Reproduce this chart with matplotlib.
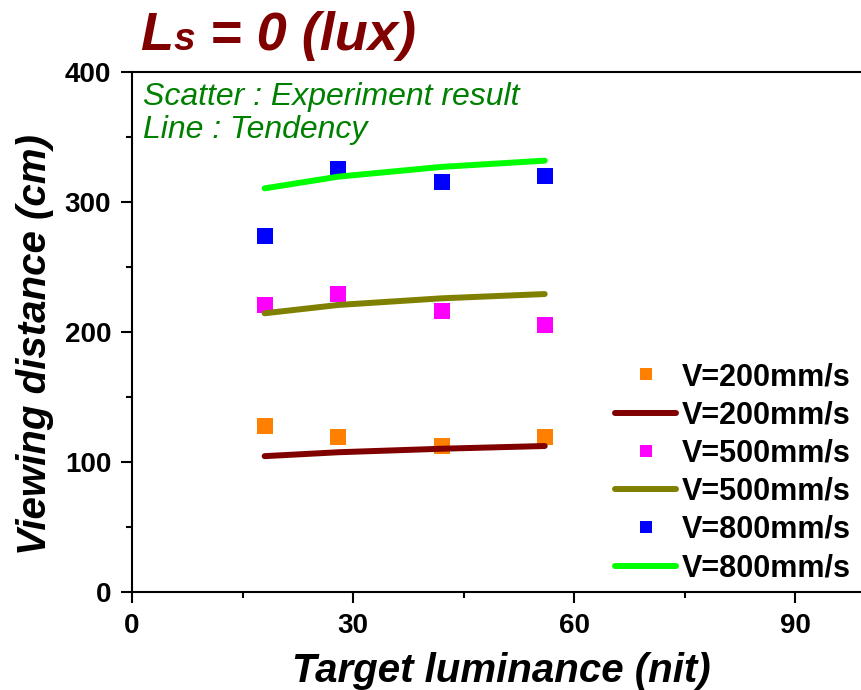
import matplotlib
matplotlib.use("Agg")
from matplotlib import pyplot as plt
from matplotlib.lines import Line2D

plt.rcParams['font.family'] = ['Liberation Sans', 'DejaVu Sans']

# experiment results (target luminance in nit, viewing distance in cm)
lum = [18, 28, 42, 56]
dist_200 = [127.7, 119.5, 112.5, 119.0]
dist_500 = [220.8, 229.0, 215.9, 205.6]
dist_800 = [273.8, 325.2, 315.2, 320.0]

# tendency curves
trend_lum = [18, 28, 42, 56]
trend_200 = [104.5, 107.5, 110.2, 112.3]
trend_500 = [214.4, 220.8, 225.9, 229.2]
trend_800 = [310.5, 319.5, 327.0, 331.8]

labels = ['V=200mm/s', 'V=500mm/s', 'V=800mm/s']
dot_colors = ['#FF8000', '#FF00FF', '#0000FF']
line_colors = ['#800000', '#808000', '#00FF00']

fig = plt.figure(figsize=(8.61, 6.9), dpi=100)
ax = fig.add_axes([132 / 861, 1 - 592 / 690, 737 / 861, 520 / 690])

handles = []
for pts, tr, lab, dc, lc in zip([dist_200, dist_500, dist_800],
                                [trend_200, trend_500, trend_800],
                                labels, dot_colors, line_colors):
    ax.plot(lum, pts, 's', color=dc, markersize=11.5, markeredgewidth=0)
    ax.plot(trend_lum, tr, '-', color=lc, linewidth=4.3, solid_capstyle='round')
    handles.append(Line2D([], [], marker='s', linestyle='none', color=dc,
                          markersize=8, markeredgewidth=0, label=lab))
    handles.append(Line2D([], [], color=lc, linewidth=4.3,
                          solid_capstyle='round', label=lab))

ax.set_xlim(0, 100)
ax.set_ylim(0, 400)
ax.set_xticks([0, 30, 60, 90])
ax.set_xticks([15, 45, 75], minor=True)
ax.set_yticks([0, 100, 200, 300, 400])
ax.set_yticks([50, 150, 250, 350], minor=True)
ax.tick_params(which='major', length=8, width=1.5, labelsize=20, pad=7,
               direction='out')
ax.tick_params(which='minor', length=4, width=1.5, direction='out')
for lbl in ax.get_xticklabels() + ax.get_yticklabels():
    lbl.set_fontweight('bold')
for sp in ax.spines.values():
    sp.set_linewidth(1.5)

leg = ax.legend(handles=handles, loc='upper left',
                bbox_to_anchor=(615 / 861, 1 - 362 / 690),
                bbox_transform=fig.transFigure, frameon=False,
                prop={'weight': 'bold', 'size': 22}, handlelength=2.0,
                handletextpad=0.2, labelspacing=0.27, borderpad=0,
                borderaxespad=0)

# notes inside the plot
fig.text(143 / 861, 1 - 105 / 690, 'Scatter : Experiment result',
         color='#008000', style='italic', fontsize=23, va='baseline')
fig.text(143 / 861, 1 - 138 / 690, 'Line : Tendency',
         color='#008000', style='italic', fontsize=23, va='baseline')

# axis titles
fig.text(501 / 861, 8 / 690, 'Target luminance (nit)', ha='center',
         va='baseline', fontsize=29, weight='bold', style='italic')
fig.text(35 / 861, 1 - 345 / 690, 'Viewing distance (cm)', ha='center',
         va='center', rotation=90, fontsize=29, weight='bold', style='italic')

# heading: L with a small s, then the rest
title_kw = dict(color='#800000', weight='bold', style='italic', va='baseline')
ty = 1 - 50 / 690
t1 = fig.text(140 / 861, ty, 'L', fontsize=39, **title_kw)
fig.canvas.draw()
r = fig.canvas.get_renderer()
x1 = t1.get_window_extent(r).x1
t2 = fig.text(x1 / 861, ty, 's', fontsize=28, **title_kw)
x2 = t2.get_window_extent(r).x1
fig.text(x2 / 861, ty, ' = 0 (lux)', fontsize=39, **title_kw)

fig.savefig('out.png', dpi=100)
